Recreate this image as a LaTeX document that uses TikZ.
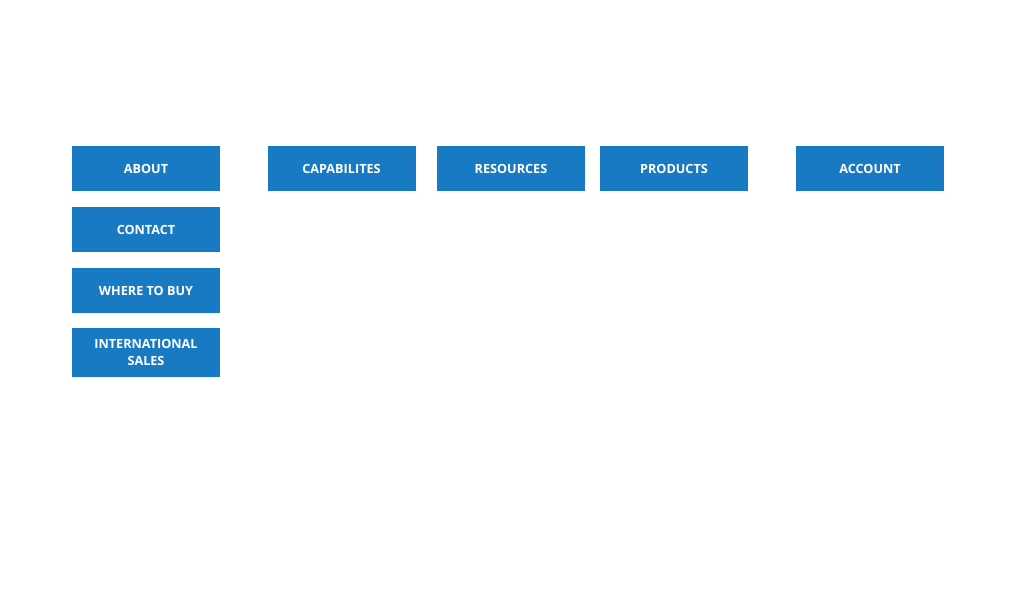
\documentclass[tikz,border=0pt]{standalone}
\usepackage{fontspec}
\setmainfont{Open Sans}
\usetikzlibrary{
  positioning,
}
\definecolor{navblue}{RGB}{25,122,196}
\tikzset{
  menu/.style={
    rectangle,
    minimum width=3.7cm,
    minimum height=1.125cm,
    text centered,
    align=center,
    inner sep=0pt,
    fill=navblue,
    text=white,
    font=\fontsize{9}{12}\selectfont\bfseries
  },
}
\begin{document}
\begin{tikzpicture}
  \useasboundingbox (0,0) rectangle (25.6,15);

  % Left column
  \node (about) [menu] at (3.65,10.7875) {ABOUT};
  \node (contact) [menu] at (3.65,9.2625) {CONTACT};
  \node (buy) [menu] at (3.65,7.7375) {WHERE TO BUY};
  \node (intl) [menu, minimum height=1.225cm] at (3.65,6.1875) {INTERNATIONAL\\SALES};

  % Top row
  \node (capab) [menu] at (8.5375,10.7875) {CAPABILITES};
  \node (resources) [menu] at (12.775,10.7875) {RESOURCES};
  \node (products) [menu] at (16.85,10.7875) {PRODUCTS};
  \node (account) [menu] at (21.75,10.7875) {ACCOUNT};

\end{tikzpicture}
\end{document}
